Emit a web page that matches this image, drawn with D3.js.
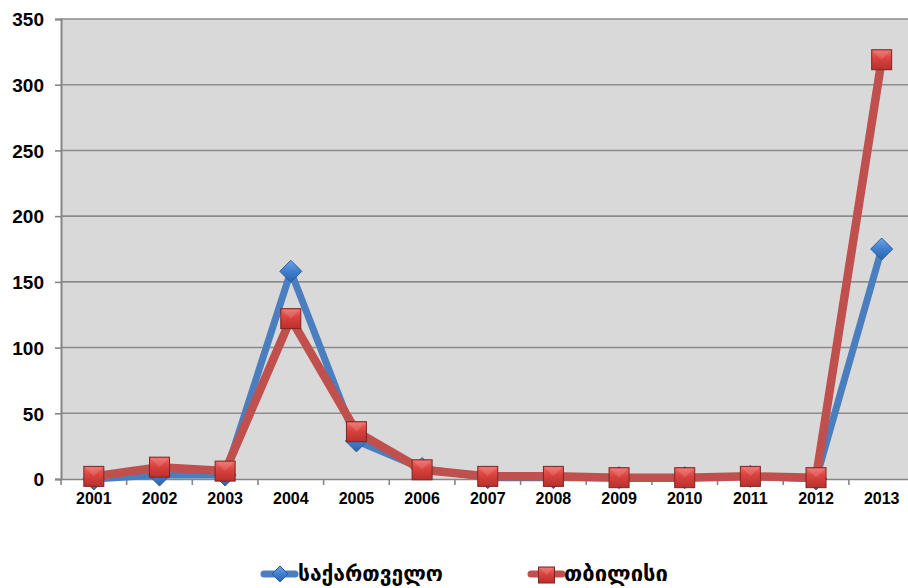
<!DOCTYPE html>
<html><head><meta charset="utf-8">
<script src="https://cdn.jsdelivr.net/npm/d3@7"></script>
<style>
html,body{margin:0;padding:0;background:#fff;overflow:hidden;}
svg{display:block;}
</style></head>
<body>
<svg id="chart" width="908" height="588"></svg>
<script>
const years = ["2001","2002","2003","2004","2005","2006","2007","2008","2009","2010","2011","2012","2013"];
const georgia = [0, 3, 3, 158, 29, 8, 1, 1, 1, 1, 2, 0, 175];
const tbilisi = [2, 9, 6, 122, 36, 7, 2, 2, 1, 1, 2, 1, 319];
const yTicks = [0, 50, 100, 150, 200, 250, 300, 350];
const seriesNames = ["საქართველო", "თბილისი"];

(function () {
const svg = d3.select("#chart");
const pLeft = 61, pRight = 914.5, pTop = 19, pBottom = 479;

const x = d3.scaleBand().domain(years).range([pLeft, pRight]).padding(0);
const y = d3.scaleLinear().domain([0, 350]).range([pBottom, pTop]);
const cx = d => x(d) + x.bandwidth() / 2;

const defs = svg.append("defs");
const gr = defs.append("linearGradient").attr("id", "gRed").attr("x1", 0).attr("y1", 0).attr("x2", 0).attr("y2", 1);
gr.append("stop").attr("offset", "0%").attr("stop-color", "#ee6a66");
gr.append("stop").attr("offset", "45%").attr("stop-color", "#d9413d");
gr.append("stop").attr("offset", "100%").attr("stop-color", "#b8302d");
const gb = defs.append("linearGradient").attr("id", "gBlue").attr("x1", 0).attr("y1", 0).attr("x2", 0).attr("y2", 1);
gb.append("stop").attr("offset", "0%").attr("stop-color", "#6fa3e6");
gb.append("stop").attr("offset", "50%").attr("stop-color", "#3f7fd0");
gb.append("stop").attr("offset", "100%").attr("stop-color", "#2d64ad");

svg.append("rect").attr("x", pLeft).attr("y", pTop).attr("width", pRight - pLeft).attr("height", pBottom - pTop).attr("fill", "#d9d9d9");

svg.append("g").selectAll("line").data(yTicks.filter(t => t > 0)).join("line")
  .attr("x1", pLeft).attr("x2", 908).attr("y1", d => y(d)).attr("y2", d => y(d))
  .attr("stroke", "#8c8c8c").attr("stroke-width", 1.6);

const yAxis = d3.axisLeft(y).tickValues(yTicks).tickSize(6).tickPadding(11).tickFormat(d3.format("d"));
const ya = svg.append("g").attr("transform", `translate(${pLeft},0)`).call(yAxis);
ya.select(".domain").attr("stroke", "#868686").attr("stroke-width", 2);
ya.selectAll(".tick line").attr("stroke", "#868686").attr("stroke-width", 1.6);
ya.selectAll("text").attr("font-family", "Liberation Sans, Arial, sans-serif").attr("font-weight", "bold")
  .attr("font-size", 19).attr("fill", "#000").attr("dy", "0.36em");

const xAxis = d3.axisBottom(x).tickSize(0).tickPadding(14);
const xa = svg.append("g").attr("transform", `translate(0,${pBottom})`).call(xAxis);
xa.select(".domain").attr("stroke", "#868686").attr("stroke-width", 1.6);
xa.selectAll("text").attr("font-family", "Liberation Sans, Arial, sans-serif").attr("font-weight", "bold")
  .attr("font-size", 16).attr("fill", "#000");
svg.append("g").selectAll("line").data(years).join("line")
  .attr("x1", d => x(d)).attr("x2", d => x(d)).attr("y1", pBottom).attr("y2", pBottom + 6)
  .attr("stroke", "#868686").attr("stroke-width", 1.6);

const line = d3.line().x((d, i) => cx(years[i])).y(d => y(d));
const blueColor = "#4a7ebf", redColor = "#c0504d";

function diamond(g, px, py, s) {
  g.append("path").attr("d", `M${px},${py - s}L${px + s},${py}L${px},${py + s}L${px - s},${py}Z`)
    .attr("fill", "url(#gBlue)").attr("stroke", "#2e5c94").attr("stroke-width", 1);
}
function square(g, px, py, s) {
  g.append("rect").attr("x", px - s).attr("y", py - s).attr("width", 2 * s).attr("height", 2 * s)
    .attr("fill", "url(#gRed)").attr("stroke", "#7d2522").attr("stroke-width", 1);
  g.append("path").attr("d", `M${px - s + 1},${py - s + 1}L${px},${py}L${px + s - 1},${py - s + 1}Z`)
    .attr("fill", "#ffffff").attr("opacity", 0.12);
}

svg.append("path").datum(georgia).attr("d", line).attr("fill", "none")
  .attr("stroke", blueColor).attr("stroke-width", 7).attr("stroke-linejoin", "round");
const gB = svg.append("g");
georgia.forEach((v, i) => diamond(gB, cx(years[i]), y(v), 11));

svg.append("path").datum(tbilisi).attr("d", line).attr("fill", "none")
  .attr("stroke", redColor).attr("stroke-width", 8.5).attr("stroke-linejoin", "round");
const gR = svg.append("g");
tbilisi.forEach((v, i) => square(gR, cx(years[i]), y(v), 10));

const lg = svg.append("g");
const legY = 574;
lg.append("line").attr("x1", 264).attr("x2", 295).attr("y1", legY).attr("y2", legY)
  .attr("stroke", blueColor).attr("stroke-width", 7).attr("stroke-linecap", "round");
diamond(lg, 280, legY, 8);
lg.append("text").attr("x", 298).attr("y", 581).text(seriesNames[0])
  .attr("font-family", "DejaVu Sans, sans-serif").attr("font-weight", "bold").attr("font-size", 21)
  .attr("textLength", 145).attr("lengthAdjust", "spacingAndGlyphs");

lg.append("line").attr("x1", 531).attr("x2", 562).attr("y1", legY).attr("y2", legY)
  .attr("stroke", redColor).attr("stroke-width", 7).attr("stroke-linecap", "round");
square(lg, 546.5, 575, 8);
lg.append("text").attr("x", 564).attr("y", 581).text(seriesNames[1])
  .attr("font-family", "DejaVu Sans, sans-serif").attr("font-weight", "bold").attr("font-size", 21)
  .attr("textLength", 104).attr("lengthAdjust", "spacingAndGlyphs");
})();
</script>
</body></html>
